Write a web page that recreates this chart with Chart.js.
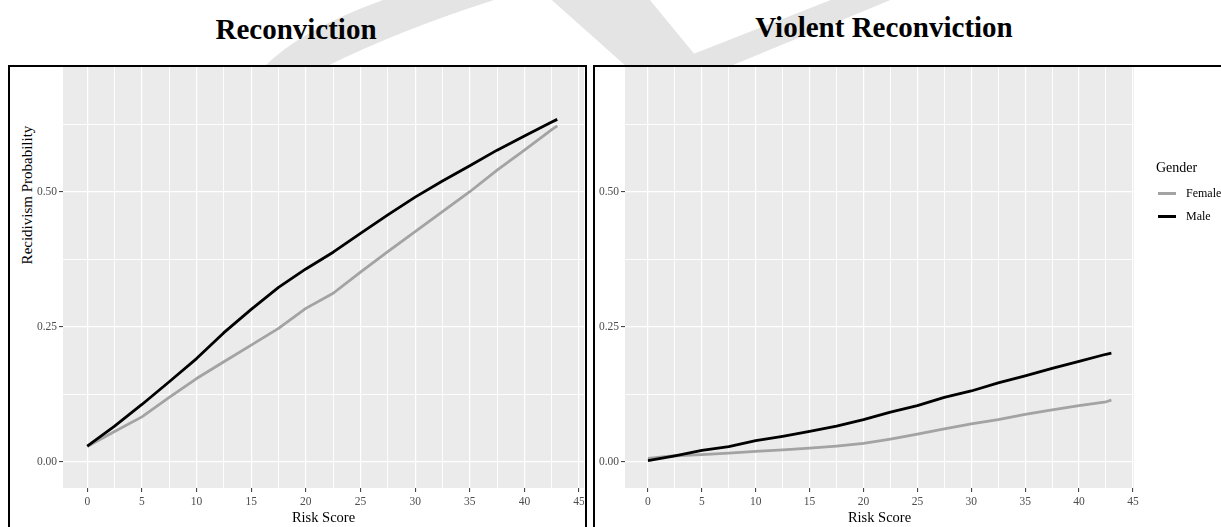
<!DOCTYPE html>
<html>
<head>
<meta charset="utf-8">
<script src="https://cdn.jsdelivr.net/npm/chart.js@4.4.1/dist/chart.umd.min.js"></script>
<style>
  html, body { margin: 0; padding: 0; background: #ffffff; }
  body {
    width: 1221px; height: 527px; position: relative; overflow: hidden;
    font-family: 'Liberation Serif', 'Times New Roman', serif; color: #000;
  }
  #mark { position: absolute; left: 0; top: 0; }
  .panel { position: absolute; border: 2px solid #000; box-sizing: border-box; background: #fff; }
  canvas { position: absolute; }
  .title {
    position: absolute; font-weight: bold; font-size: 29px; line-height: 29px;
    white-space: nowrap; transform: translateX(-50%);
  }
  .ytitle {
    position: absolute; width: 220px; text-align: center; font-size: 15px; line-height: 16px;
    color: #000; transform: rotate(-90deg); white-space: nowrap;
  }
  #legend { position: absolute; left: 1156px; top: 159px; }
  #legend .lt { font-size: 14px; line-height: 18px; margin-bottom: 6px; }
  #legend .row { position: relative; height: 23px; }
  #legend .key { position: absolute; left: 2px; top: 9px; width: 18px; height: 3px; }
  #legend .lab { position: absolute; left: 30px; top: 3px; font-size: 12px; line-height: 14px; }
</style>
</head>
<body>
<!-- faint background watermark behind the figure -->
<svg id="mark" width="1221" height="527">
  <path d="M250,80 L264,67 Q300,30 383,0 L400,-8 L520,-8 L494,0 Q400,30 325,67 L312,80 Z" fill="#e4e4e4"/>
  <path d="M545,-6 L645,-6 L705,67 L627,67 Z" fill="#e4e4e4"/>
  <path d="M846,-6 L905,-6 L728,67 L660,67 Z" fill="#e4e4e4"/>
</svg>

<div class="panel" style="left:8px; top:65px; width:579px; height:600px;"></div>
<div class="panel" style="left:593px; top:65px; width:700px; height:600px;"></div>

<div class="title" style="left:296px; top:15px;">Reconviction</div>
<div class="title" style="left:884px; top:13px;">Violent Reconviction</div>
<div class="ytitle" style="left:-83px; top:187px;">Recidivism Probability</div>

<canvas id="c1" width="574" height="460" style="left:10px; top:67px;"></canvas>
<canvas id="c2" width="626" height="460" style="left:595px; top:67px;"></canvas>

<div id="legend"></div>

<script>
// Risk score sample points
const riskScore = [0, 2.5, 5, 7.5, 10, 12.5, 15, 17.5, 20, 22.5, 25, 27.5, 30, 32.5, 35, 37.5, 40, 42.5, 43];

// Reconviction probability by gender
const reconMale   = [0.029, 0.066, 0.106, 0.148, 0.191, 0.239, 0.282, 0.323, 0.357, 0.388, 0.423, 0.457, 0.490, 0.520, 0.548, 0.577, 0.603, 0.629, 0.634];
const reconFemale = [0.028, 0.056, 0.083, 0.119, 0.154, 0.185, 0.216, 0.247, 0.284, 0.312, 0.351, 0.389, 0.426, 0.463, 0.500, 0.540, 0.577, 0.615, 0.622];

// Violent reconviction probability by gender
const violentMale   = [0.002, 0.011, 0.021, 0.028, 0.039, 0.047, 0.056, 0.066, 0.078, 0.092, 0.104, 0.119, 0.131, 0.146, 0.159, 0.173, 0.186, 0.199, 0.201];
const violentFemale = [0.006, 0.011, 0.013, 0.016, 0.019, 0.022, 0.025, 0.029, 0.034, 0.042, 0.051, 0.061, 0.070, 0.078, 0.0875, 0.096, 0.104, 0.111, 0.114];

// Axis ticks (major + minor grid positions) and labels for the majors
const xGrid = [0, 2.5, 5, 7.5, 10, 12.5, 15, 17.5, 20, 22.5, 25, 27.5, 30, 32.5, 35, 37.5, 40, 42.5, 45];
const xMajor = [0, 5, 10, 15, 20, 25, 30, 35, 40, 45];
const xLabels = ['0', '5', '10', '15', '20', '25', '30', '35', '40', '45'];
const yGrid = [0, 0.125, 0.25, 0.375, 0.5, 0.625];
const yMajor = [0, 0.25, 0.5];
const yLabels = ['0.00', '0.25', '0.50'];

const genders = ['Female', 'Male'];
const genderColors = { Female: '#a3a3a3', Male: '#000000' };

Chart.defaults.font.family = "'Liberation Serif', 'Times New Roman', serif";
Chart.defaults.color = '#4d4d4d';

const panelBackground = {
  id: 'panelBackground',
  beforeDraw(chart) {
    const { ctx, chartArea: a } = chart;
    ctx.save();
    ctx.fillStyle = '#ebebeb';
    ctx.fillRect(a.left, a.top, a.right - a.left, a.bottom - a.top);
    ctx.restore();
  }
};

function pts(ys) { return riskScore.map((x, i) => ({ x, y: ys[i] })); }

function isMajor(list, v) { return list.some(m => Math.abs(m - v) < 1e-9); }

function makeChart(id, female, male, opts) {
  const gridFor = (major) => ({
    color: '#ffffff',
    lineWidth: (c) => (c.tick && isMajor(major, c.tick.value)) ? 1.2 : 0.9,
    tickColor: (c) => (c.tick && isMajor(major, c.tick.value)) ? '#333333' : 'rgba(0,0,0,0)',
    tickLength: 4,
    tickWidth: 1,
    drawTicks: true
  });
  return new Chart(document.getElementById(id), {
    type: 'line',
    data: {
      datasets: [
        { label: 'Female', data: pts(female), borderColor: genderColors.Female, order: 1 },
        { label: 'Male', data: pts(male), borderColor: genderColors.Male, order: 0 }
      ]
    },
    options: {
      responsive: false,
      animation: false,
      events: [],
      layout: { padding: { left: 0, top: 0, bottom: 0, right: opts.padRight } },
      elements: {
        point: { radius: 0 },
        line: { borderWidth: 2.8, tension: 0, borderCapStyle: 'butt', borderJoinStyle: 'round' }
      },
      plugins: { legend: { display: false }, tooltip: { enabled: false }, title: { display: false } },
      scales: {
        x: {
          type: 'linear',
          min: opts.xMin, max: opts.xMax,
          border: { display: false },
          grid: gridFor(xMajor),
          afterBuildTicks: (s) => { s.ticks = xGrid.map(v => ({ value: v })); },
          afterFit: (s) => { s.height = 39; s.paddingLeft = 0; s.paddingRight = 0; },
          ticks: {
            autoSkip: false, maxRotation: 0, padding: 3,
            font: { size: 11.5 }, color: '#4d4d4d',
            callback: (v) => { const i = xMajor.findIndex(m => Math.abs(m - v) < 1e-9); return i >= 0 ? xLabels[i] : ''; }
          },
          title: { display: true, text: 'Risk Score', color: '#000', font: { size: 14.5 }, padding: { top: 0, bottom: 0 } }
        },
        y: {
          type: 'linear',
          min: -0.0487, max: 0.731,
          border: { display: false },
          grid: gridFor(yMajor),
          afterBuildTicks: (s) => { s.ticks = yGrid.map(v => ({ value: v })); },
          afterFit: (s) => { s.width = opts.yWidth; s.paddingTop = 0; s.paddingBottom = 0; },
          ticks: {
            autoSkip: false, padding: 2,
            font: { size: 11.5 }, color: '#4d4d4d',
            callback: (v) => { const i = yMajor.findIndex(m => Math.abs(m - v) < 1e-9); return i >= 0 ? yLabels[i] : ''; }
          }
        }
      }
    },
    plugins: [panelBackground]
  });
}

makeChart('c1', reconFemale, reconMale, { xMin: -2.22, xMax: 45.45, yWidth: 53, padRight: 0 });
makeChart('c2', violentFemale, violentMale, { xMin: -2.13, xMax: 45.1, yWidth: 30, padRight: 87 });

// Gender legend
const legend = document.getElementById('legend');
const lt = document.createElement('div');
lt.className = 'lt';
lt.textContent = 'Gender';
legend.appendChild(lt);
genders.forEach(g => {
  const row = document.createElement('div');
  row.className = 'row';
  const key = document.createElement('div');
  key.className = 'key';
  key.style.background = genderColors[g];
  const lab = document.createElement('div');
  lab.className = 'lab';
  lab.textContent = g;
  row.appendChild(key);
  row.appendChild(lab);
  legend.appendChild(row);
});
</script>
</body>
</html>
